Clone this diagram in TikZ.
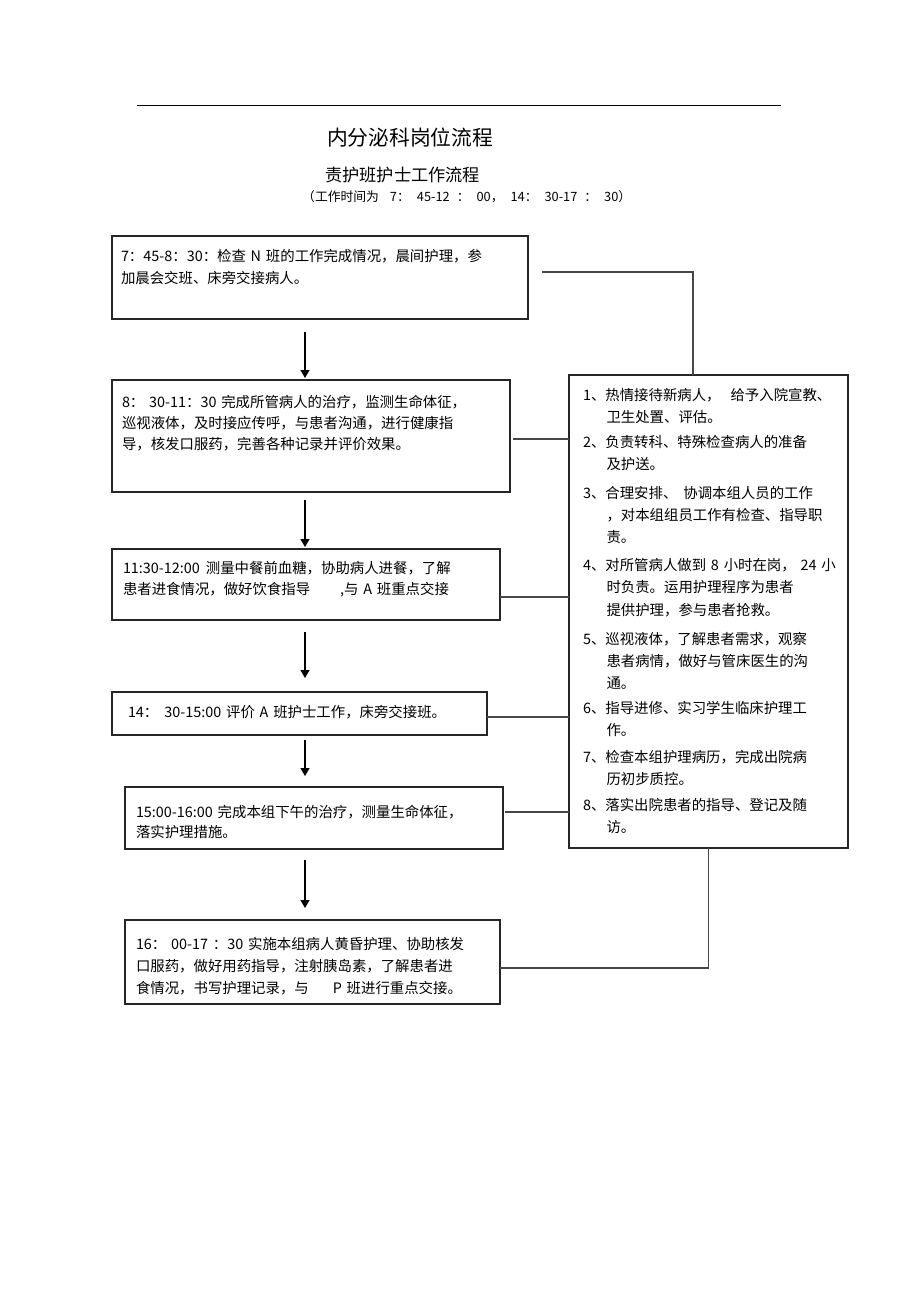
\documentclass[tikz,border=0pt]{standalone}
\usepackage{fontspec}
\setmainfont{Noto Sans CJK SC}
\usetikzlibrary{arrows.meta,calc}
\tikzset{
  box/.style={draw=black!85, line width=1.3pt, inner sep=0pt, outer sep=0pt, anchor=north west},
  txt/.style={anchor=base west, inner sep=0pt, outer sep=0pt, align=left, text width=440pt},
  conn/.style={draw=black!72, line width=1.3pt},
  arr/.style={draw=black, line width=1.2pt, -{Triangle[length=8pt,width=9pt]}},
  rule/.style={draw=black, line width=0.9pt},
}
\begin{document}
\begin{tikzpicture}[x=1pt,y=-1pt]
\useasboundingbox[fill=white] (0,0) rectangle (920,1303);

% top rule
\coordinate (rl) at (137,105);
\coordinate (rr) at (781,105);
\draw[rule] (rl) -- (rr);

% titles
\node[anchor=base west, inner sep=0pt, font=\fontsize{20.75}{24}\selectfont] (title) at (327,146) {内分泌科岗位流程};
\node[anchor=base west, inner sep=0pt, font=\fontsize{17.2}{20}\selectfont] (sub) at (325,181.5) {责护班护士工作流程};
\node[anchor=base west, inner sep=0pt, font=\fontsize{12.8}{15}\selectfont] (time) at (302,201) {（工作时间为\hspace{11pt}7：\hspace{7pt}45-12\hspace{7pt}：\hspace{7pt}00，\hspace{7pt}14：\hspace{7pt}30-17\hspace{7pt}：\hspace{7pt}30）};

% left boxes
\node[box, minimum width=416pt, minimum height=83pt]  (b1) at (112,236) {};
\node[box, minimum width=398pt, minimum height=112pt] (b2) at (112,380) {};
\node[box, minimum width=388pt, minimum height=71pt]  (b3) at (112,549) {};
\node[box, minimum width=375pt, minimum height=43pt]  (b4) at (112,692) {};
\node[box, minimum width=378pt, minimum height=62pt]  (b5) at (125,787) {};
\node[box, minimum width=375pt, minimum height=84pt]  (b6) at (125,920) {};

% right box
\node[box, minimum width=279pt, minimum height=473pt] (rb) at (569,375) {};

% texts in left boxes
\node[txt, font=\fontsize{14.4}{22}\selectfont] (t1) at (121,261.5)
  {7：45-8：30：检查 N 班的工作完成情况，晨间护理，参\\加晨会交班、床旁交接病人。};
\node[txt, font=\fontsize{14.4}{21}\selectfont] (t2) at (122,407.5)
  {8： 30-11：30 完成所管病人的治疗，监测生命体征，\\巡视液体，及时接应传呼，与患者沟通，进行健康指\\导，核发口服药，完善各种记录并评价效果。};
\node[txt, font=\fontsize{14.4}{21}\selectfont] (t3) at (123,573.5)
  {11:30-12:00\hspace{6pt}测量中餐前血糖，协助病人进餐，了解\\患者进食情况，做好饮食指导\hspace{30pt},与 A 班重点交接};
\node[txt, font=\fontsize{14.4}{21}\selectfont] (t4) at (128,717.5)
  {14：\hspace{6pt}30-15:00 评价 A 班护士工作，床旁交接班。};
\node[txt, font=\fontsize{14.4}{20}\selectfont] (t5) at (136,817.5)
  {15:00-16:00 完成本组下午的治疗，测量生命体征，\\落实护理措施。};
\node[txt, font=\fontsize{14.4}{22}\selectfont] (t6) at (136,949.5)
  {16： 00-17 ：30 实施本组病人黄昏护理、协助核发\\口服药，做好用药指导，注射胰岛素，了解患者进\\食情况，书写护理记录，与\hspace{24pt}P 班进行重点交接。};

% texts in right box
\tikzset{item/.style={txt, text width=270pt, font=\fontsize{14.4}{22}\selectfont}}
\node[item] (r1) at (583,400.5) {1、热情接待新病人，\hspace{10pt}给予入院宣教、\\\hspace*{23.5pt}卫生处置、评估。};
\node[item] (r2) at (583,447.5) {2、负责转科、特殊检查病人的准备\\\hspace*{23.5pt}及护送。};
\node[item] (r3) at (583,498.5) {3、合理安排、\hspace{6pt}协调本组人员的工作\\\hspace*{23.5pt}，对本组组员工作有检查、指导职\\\hspace*{23.5pt}责。};
\node[item] (r4) at (583,570.5) {4、对所管病人做到 8 小时在岗， 24 小\\\hspace*{23.5pt}时负责。运用护理程序为患者\\[1pt]\hspace*{23.5pt}提供护理，参与患者抢救。};
\node[item] (r5) at (583,644.5) {5、巡视液体，了解患者需求，观察\\\hspace*{23.5pt}患者病情，做好与管床医生的沟\\\hspace*{23.5pt}通。};
\node[item] (r6) at (583,713.5) {6、指导进修、实习学生临床护理工\\\hspace*{23.5pt}作。};
\node[item] (r7) at (583,762.5) {7、检查本组护理病历，完成出院病\\\hspace*{23.5pt}历初步质控。};
\node[item] (r8) at (583,810.5) {8、落实出院患者的指导、登记及随\\\hspace*{23.5pt}访。};

% arrows
\coordinate (ax) at (305,0);
\draw[arr] ($(b1.south -| ax)+(0,13)$) -- ($(b2.north -| ax)+(0,-2)$);
\draw[arr] ($(b2.south -| ax)+(0,8)$)  -- ($(b3.north -| ax)+(0,-2)$);
\draw[arr] ($(b3.south -| ax)+(0,12)$) -- ($(b4.north -| ax)+(0,-14)$);
\draw[arr] ($(b4.south -| ax)+(0,5)$)  -- ($(b5.north -| ax)+(0,-11)$);
\draw[arr] ($(b5.south -| ax)+(0,11)$) -- ($(b6.north -| ax)+(0,-12)$);

% connectors to the duty list
\draw[conn] ($(b1.east)+(14,-5.5)$) -| ($(rb.north)+(-15.5,0)$);
\draw[conn] ($(b2.east)+(3,3)$) coordinate (c2) -- (c2 -| rb.west);
\draw[conn] ($(b3.east)+(0,12.5)$) coordinate (c3) -- (c3 -| rb.west);
\draw[conn] ($(b4.east)+(0,3.5)$) coordinate (c4) -- (c4 -| rb.west);
\draw[conn] ($(b5.east)+(2,-6)$) coordinate (c5) -- (c5 -| rb.west);
\draw[conn] ($(b6.east)+(0,6)$) -| (rb.south);
\end{tikzpicture}
\end{document}
